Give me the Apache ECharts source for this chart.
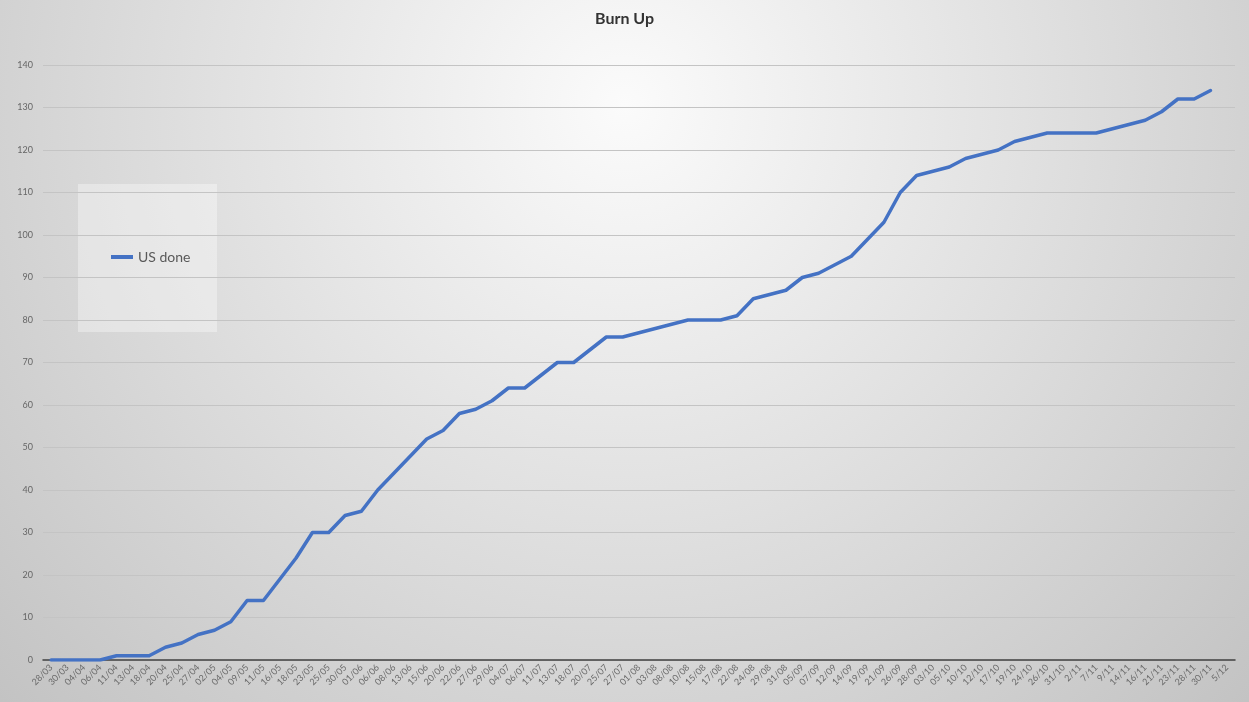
<!DOCTYPE html>
<html>
<head>
<meta charset="utf-8">
<script src="https://cdn.jsdelivr.net/npm/echarts@6/dist/echarts.min.js"></script>
<style>
html,body{margin:0;padding:0;}
#chart{width:1249px;height:702px;}
</style>
</head>
<body>
<div id="chart"></div>
<script>
const categories = ['28/03','30/03','04/04','06/04','11/04','13/04','18/04','20/04','25/04','27/04',
'02/05','04/05','09/05','11/05','16/05','18/05','23/05','25/05','30/05','01/06',
'06/06','08/06','13/06','15/06','20/06','22/06','27/06','29/06','04/07','06/07',
'11/07','13/07','18/07','20/07','25/07','27/07','01/08','03/08','08/08','10/08',
'15/08','17/08','22/08','24/08','29/08','31/08','05/09','07/09','12/09','14/09',
'19/09','21/09','26/09','28/09','03/10','05/10','10/10','12/10','17/10','19/10',
'24/10','26/10','31/10','2/11','7/11','9/11','14/11','16/11','21/11','23/11',
'28/11','30/11','5/12'];
const usDone = [0,0,0,0,1,1,1,3,4,6,
7,9,14,14,19,24,30,30,34,35,
40,44,48,52,54,58,59,61,64,64,
67,70,70,73,76,76,77,78,79,80,
80,80,81,85,86,87,90,91,93,95,
99,103,110,114,115,116,118,119,120,122,
123,124,124,124,124,125,126,127,129,132,
132,134,null];
const seriesName = 'US done';
const chartTitle = 'Burn Up';

const chart = echarts.init(document.getElementById('chart'));
chart.setOption({
  animation: false,
  backgroundColor: {
    type: 'radial', x: 0.5, y: 0.15, r: 1.25,
    colorStops: [{offset: 0, color: '#fbfbfb'}, {offset: 1, color: '#c2c2c2'}]
  },
  title: {
    text: chartTitle, left: 'center', top: 6,
    textStyle: {fontFamily: 'Lato', fontSize: 16, fontWeight: 'bold', color: '#333333'}
  },
  graphic: [{
    type: 'rect', z: 0, silent: true,
    shape: {x: 78, y: 184, width: 139, height: 148},
    style: {fill: 'rgba(255,255,255,0.35)'}
  }],
  legend: {
    left: 106, top: 245,
    itemWidth: 22, itemHeight: 4, itemGap: 2,
    data: [{name: seriesName, icon: 'rect'}],
    textStyle: {fontFamily: 'Lato', fontSize: 14, color: '#595959'}
  },
  grid: {left: 43, right: 14, top: 65, bottom: 42, containLabel: false},
  xAxis: {
    type: 'category', data: categories, boundaryGap: true,
    axisLine: {show: true, lineStyle: {color: '#404040', width: 1.5}},
    axisTick: {show: false},
    axisLabel: {interval: 0, rotate: 45, margin: 6, fontFamily: 'Lato', fontSize: 9, color: '#6a6a6a'},
    splitLine: {show: false}
  },
  yAxis: {
    type: 'value', min: 0, max: 140, interval: 10,
    axisLine: {show: false}, axisTick: {show: false},
    axisLabel: {margin: 10, fontFamily: 'Lato', fontSize: 9, color: '#666666'},
    splitLine: {lineStyle: {color: '#c4c4c4', width: 1}}
  },
  series: [{
    name: seriesName, type: 'line', data: usDone,
    symbol: 'none', smooth: false,
    lineStyle: {color: '#4472C4', width: 3.5, join: 'round', cap: 'round'},
    itemStyle: {color: '#4472C4'}
  }]
});
</script>
</body>
</html>
